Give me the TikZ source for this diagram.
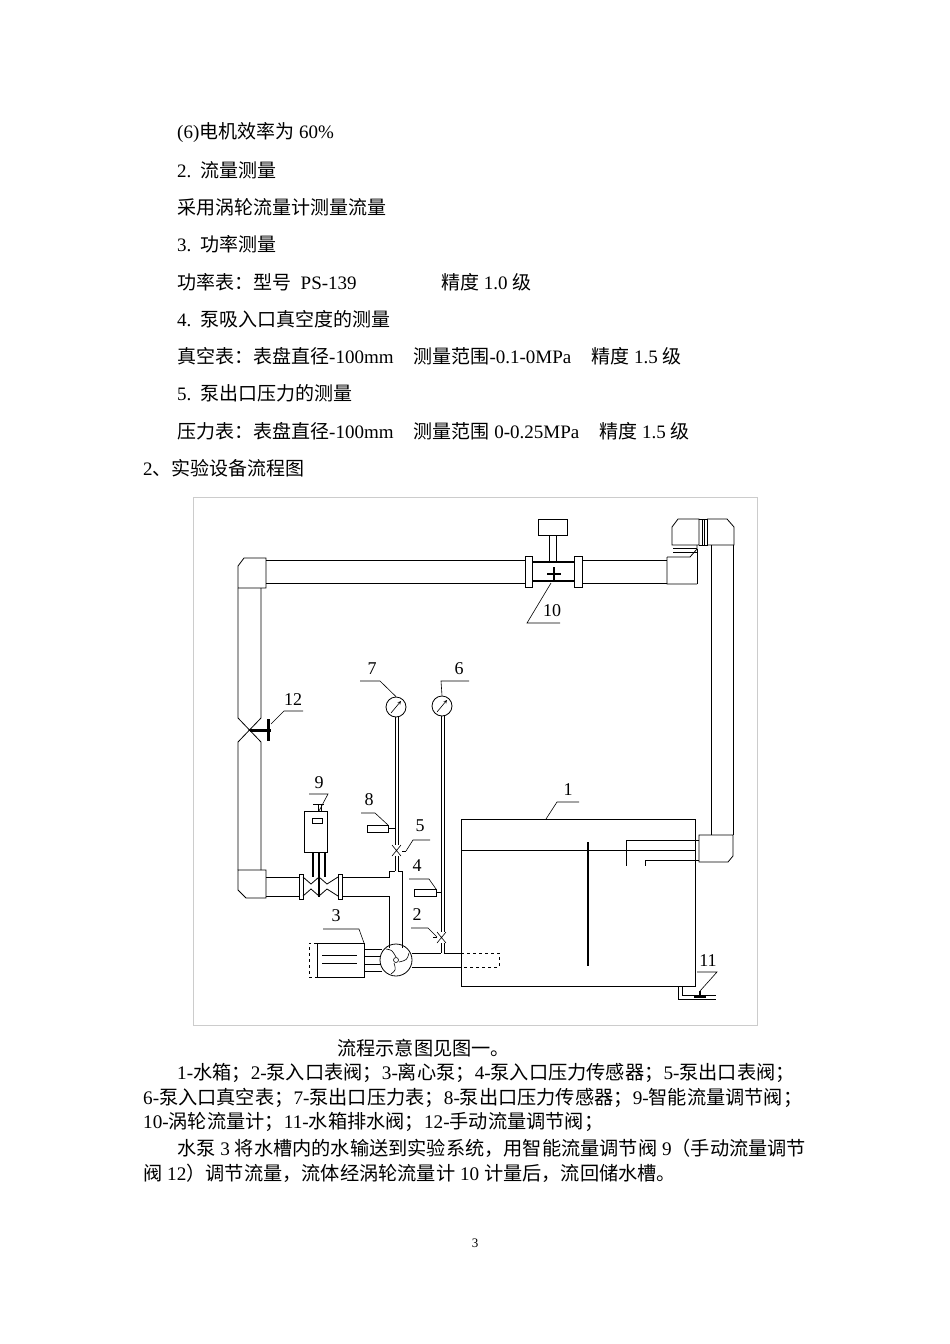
\documentclass[tikz,border=0pt]{standalone}
\usepackage{fontspec}
\setmainfont{Liberation Serif}
\newfontfamily\cjk{Noto Sans CJK SC}
\newcommand{\z}[1]{{\cjk #1}}
\begin{document}
\begin{tikzpicture}[x=1pt,y=-1pt,
  txt/.style={anchor=west,inner sep=0pt,font=\fontsize{19}{20}\selectfont},
  captxt/.style={anchor=west,inner sep=0pt,font=\fontsize{19.2}{20}\selectfont},
  lbl/.style={inner sep=0pt,font=\fontsize{18}{18}\selectfont},
  pl/.style={line width=0.8pt},
  thin/.style={line width=0.6pt}]
\useasboundingbox[fill=white] (0,0) rectangle (950,1344);
% text
\node[txt] (t1) at (177,132) {(6)\z{电机效率为} 60\%};
\node[txt] (t2) at (177,170) {2.\ \ \z{流量测量}};
\node[txt] (t3) at (177,207) {\z{采用涡轮流量计测量流量}};
\node[txt] (t4) at (177,244) {3.\ \ \z{功率测量}};
\node[txt] (t5) at (177,282) {\z{功率表：型号}\ \ PS-139};
\node[txt] (t5b) at (441,282) {\z{精度} 1.0 \z{级}};
\node[txt] (t6) at (177,319) {4.\ \ \z{泵吸入口真空度的测量}};
\node[txt] (t7) at (177,356) {\z{真空表：表盘直径}-100mm\hspace{20pt}\z{测量范围}-0.1-0MPa\hspace{20pt}\z{精度} 1.5 \z{级}};
\node[txt] (t8) at (177,393) {5.\ \ \z{泵出口压力的测量}};
\node[txt] (t9) at (177,431) {\z{压力表：表盘直径}-100mm\hspace{20pt}\z{测量范围} 0-0.25MPa\hspace{20pt}\z{精度} 1.5 \z{级}};
\node[txt] (t10) at (143,468) {2\z{、实验设备流程图}};
\node[captxt] (c0) at (337,1048) {\z{流程示意图见图一。}};
\node[captxt] (c1) at (177,1073) {1-\z{水箱；}2-\z{泵入口表阀；}3-\z{离心泵；}4-\z{泵入口压力传感器；}5-\z{泵出口表阀；}};
\node[captxt] (c2) at (143,1098) {6-\z{泵入口真空表；}7-\z{泵出口压力表；}8-\z{泵出口压力传感器；}9-\z{智能流量调节阀；}};
\node[captxt] (c3) at (143,1122) {10-\z{涡轮流量计；}11-\z{水箱排水阀；}12-\z{手动流量调节阀；}};
\node[captxt] (c4) at (177,1148) {\z{水泵} 3 \z{将水槽内的水输送到实验系统，用智能流量调节阀} 9\z{（手动流量调节}};
\node[captxt] (c5) at (143,1173) {\z{阀} 12\z{）调节流量，流体经涡轮流量计} 10 \z{计量后，流回储水槽。}};
\node[inner sep=0pt,font=\fontsize{13}{14}\selectfont] (pg) at (475,1243) {3};
% frame
\draw[gray!40,line width=0.8pt] (193,497) rectangle (757,1025);
% top pipe
\draw[pl] (266,560) -- (525,560) (266,583) -- (525,583);
\draw[pl] (582,560) -- (667,560) (582,583) -- (667,583);
% left top elbow
\draw[pl] (238,588) -- (238,566) -- (244,558) -- (266,558) -- (266,588) -- (238,588);
% flow meter 10
\draw[pl] (525,556) rectangle (532,587) (574,556) rectangle (582,587);
\draw[line width=1.4pt] (532,562) -- (574,562) (532,581) -- (574,581);
\draw[pl] (549,562) -- (549,535) (556,562) -- (556,535);
\draw[pl] (538,519) rectangle (567,535);
\draw[line width=1.6pt] (547,574) -- (561,574) (554,567) -- (554,581);
\coordinate (m10) at (551,583);
\draw[thin] (m10) -- (527,623) -- (560,623);
\node[lbl] (l10) at (552,611) {10};
% right elbows
\draw[pl] (667,557) -- (690,557) -- (697,549) -- (697,545) (697,584) -- (690,584) -- (667,584) -- (667,557);
\draw[pl] (697,549) -- (697,584);
\draw[pl] (672,545) -- (672,527) -- (678,519) -- (699,519) -- (699,545) -- cycle;
\draw[pl] (699,519) -- (707,519) -- (707,545) -- (699,545);
\draw[thin] (702,519) -- (702,545) (704,519) -- (704,545);
\draw[pl] (707,519) -- (727,519) -- (734,527) -- (734,545) -- (707,545);
\draw[thin] (673,548) -- (697,548) (673,552) -- (697,552);
% right vertical pipe
\draw[pl] (711,545) -- (711,835) (733,545) -- (733,835);
\draw[pl] (699,835) -- (733,835) -- (733,856) -- (728,862) -- (699,862) -- cycle;
\draw[pl] (699,840) -- (626,840) -- (626,866) (699,860) -- (645,860) -- (645,866);
% left vertical pipe with valve 12
\draw[pl] (238,588) -- (238,718) -- (261,742) -- (261,870) (261,588) -- (261,718) -- (238,742) -- (238,870);
\draw[line width=3pt] (250,730) -- (271,730) (268,719) -- (268,741);
\coordinate (m12) at (271,724);
\draw[thin] (m12) -- (284,711) -- (303,711);
\node[lbl] (l12) at (293,700) {12};
% bottom left elbow
\draw[pl] (238,870) -- (266,870) -- (266,898) -- (246,898) -- (238,890) -- cycle;
% lower horizontal pipe
\draw[pl] (266,877) -- (299,877) (266,896) -- (299,896);
\draw[pl] (299,874) rectangle (303,899) (338,874) rectangle (342,899);
\draw[pl] (303,877) -- (311,884) -- (319,877) -- (327,884) -- (338,877);
\draw[pl] (303,896) -- (311,889) -- (319,896) -- (327,889) -- (338,896);
\draw[pl] (342,877) -- (389,877) -- (389,871) -- (395,871) (342,896) -- (389,896) -- (389,948);
\draw[pl] (402,871) -- (402,948) (398,871) -- (402,871);
% valve 9 actuator
\draw[pl] (304,811) rectangle (327,852);
\draw[pl] (312,818) rectangle (322,823);
\draw[pl] (313,804) -- (324,804) (318,804) -- (318,811) (321,804) -- (321,811);
\draw[line width=1.6pt] (313,852) -- (313,877) (325,852) -- (325,877);
\draw[line width=2pt] (319,852) -- (319,897);
\coordinate (m9) at (319,811);
\draw[thin] (m9) -- (328,794) -- (309,794);
\node[lbl] (l9) at (319,783) {9};
% gauge 7 and stem
\node[draw,circle,minimum size=20pt,inner sep=0pt,pl] (g7) at (396,707) {};
\draw[thin,-stealth] (391,713) -- (401,701);
\draw[thin] (395,717) -- (395,845) (398,717) -- (398,845);
\draw[thin] (392,845) -- (401,856) (401,845) -- (392,856);
\draw[thin] (395,856) -- (395,871) (398,856) -- (398,871);
\draw[thin] (402,851) -- (406,851);
\draw[thin] (g7.north) -- (380,681) -- (360,681);
\node[lbl] (l7) at (372,669) {7};
% sensor 8
\draw[pl] (367,825) rectangle (388,832);
\draw[thin] (388,828) -- (395,828);
\coordinate (m8) at (388,825);
\draw[thin] (m8) -- (375,813) -- (361,813);
\node[lbl] (l8) at (369,800) {8};
\coordinate (m5) at (406,851);
\draw[thin] (m5) -- (413,840) -- (430,840);
\node[lbl] (l5) at (420,826) {5};
% gauge 6 and stem
\node[draw,circle,minimum size=20pt,inner sep=0pt,pl] (g6) at (442,706) {};
\draw[thin,-stealth] (437,712) -- (447,700);
\draw[thin] (441,716) -- (441,932) (444,716) -- (444,932);
\draw[thin] (437,932) -- (446,943) (446,932) -- (437,943);
\draw[thin] (441,943) -- (441,953) (444,943) -- (444,953);
\draw[thin] (433,937) -- (437,937);
\draw[thin] (g6.north) -- (441,681) -- (469,681);
\node[lbl] (l6) at (459,669) {6};
% sensor 4
\draw[pl] (414,889) rectangle (436,896);
\draw[thin] (436,892) -- (441,892);
\coordinate (m4) at (436,889);
\draw[thin] (m4) -- (429,879) -- (409,879);
\node[lbl] (l4) at (417,866) {4};
\coordinate (m2) at (437,937);
\draw[thin] (m2) -- (428,928) -- (411,928);
\node[lbl] (l2) at (417,915) {2};
% pump
\node[draw,circle,minimum size=32pt,inner sep=0pt,pl] (pump) at (396,960) {};
\node[draw,circle,minimum size=5pt,inner sep=0pt,thin] (hub) at (396,960) {};
\draw[thin] (396,957) .. controls (392,950) .. (386,949);
\draw[thin] (399,962) .. controls (407,960) .. (409,953);
\draw[thin] (394,963) .. controls (396,970) .. (391,974);
% pump inlet pipe
\draw[pl] (412,953) -- (441,953) (444,953) -- (461,953) (412,967) -- (461,967);
\draw[pl,dashed] (461,953) -- (499,953) -- (499,967) -- (461,967);
% motor
\draw[pl] (317,943) rectangle (364,977);
\draw[pl,dashed] (317,943) -- (309,943) -- (309,977) -- (317,977);
\draw[thin] (322,955) -- (357,955) (322,963) -- (357,963);
\draw[pl] (364,949) -- (382,949) (364,971) -- (382,971);
\draw[thin] (364,956) -- (381,956) (364,964) -- (381,964);
\coordinate (m3) at (364,943);
\draw[thin] (m3) -- (359,929) -- (323,929);
\node[lbl] (l3) at (336,916) {3};
% tank
\draw[pl] (461,819) rectangle (695,986);
\draw[pl] (461,850) -- (695,850);
\draw[line width=2pt] (588,842) -- (588,966);
\coordinate (m1) at (546,819);
\draw[thin] (m1) -- (557,802) -- (579,802);
\node[lbl] (l1) at (568,790) {1};
% drain 11
\draw[pl] (678,986) -- (678,999) -- (716,999) (682,986) -- (682,995) -- (716,995);
\draw[line width=1.6pt] (694,997) -- (706,997) (700,991) -- (700,997);
\coordinate (m11) at (700,991);
\draw[thin] (m11) -- (717,972) -- (697,972);
\node[lbl] (l11) at (708,961) {11};
\end{tikzpicture}
\end{document}
